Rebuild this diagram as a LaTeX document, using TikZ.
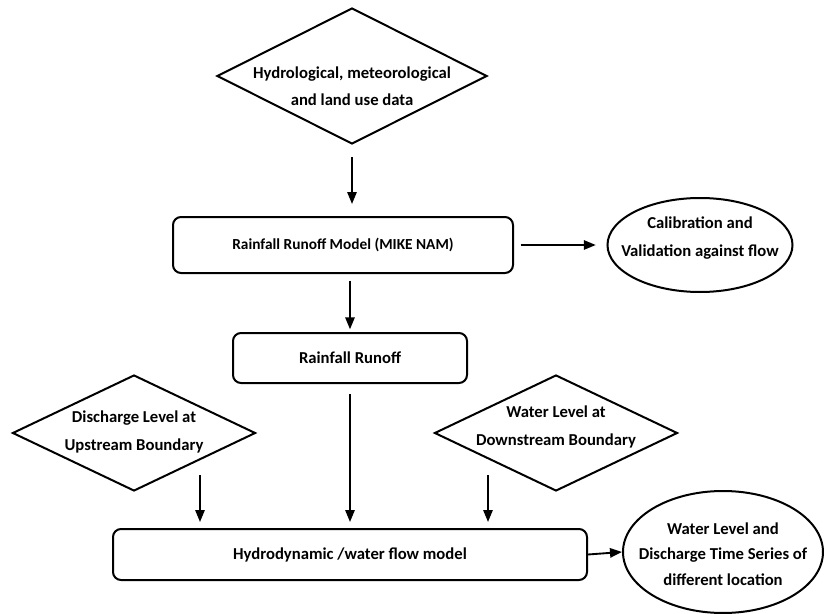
\documentclass[tikz,border=0pt]{standalone}
\usepackage{fontspec}
\setmainfont{Carlito}
\usetikzlibrary{shapes.geometric,arrows.meta}
\begin{document}
\begin{tikzpicture}[x=0.75pt,y=-0.75pt, line width=1.5pt,
  txt/.style={font=\bfseries\fontsize{12.5}{20.5}\selectfont, align=center, inner sep=0pt},
  dia/.style={diamond, draw, inner sep=0pt},
  rbox/.style={draw, rounded corners=6pt, inner sep=0pt, font=\bfseries\fontsize{12.5}{20.5}\selectfont, align=center},
  ell/.style={ellipse, draw, inner sep=0pt},
  arr/.style={-{Triangle[length=9pt,width=7pt]}, line width=1.4pt}]
\useasboundingbox (0,0) rectangle (826,614);

% shapes
\node[dia, minimum width=202.5pt, minimum height=102pt] (top) at (352,76) {};
\node[txt] (topt) at (352,86) {Hydrological, meteorological\\and land use data};

\node[rbox, minimum width=255pt, minimum height=42pt, font=\bfseries\fontsize{11.5}{20}\selectfont] (model) at (343,245) {Rainfall Runoff Model (MIKE NAM)};

\node[ell, minimum width=138.75pt, minimum height=70.5pt] (cal) at (700,245) {};
\node[txt] (calt) at (700,238) {Calibration and\\Validation against flow};

\node[rbox, minimum width=175.5pt, minimum height=37.5pt] (rr) at (350,358) {Rainfall Runoff};

\node[dia, minimum width=182.25pt, minimum height=87pt] (dis) at (134,433) {};
\node[txt] (dist) at (134,432) {Discharge Level at\\Upstream Boundary};

\node[dia, minimum width=182.25pt, minimum height=87pt] (wl) at (556,433) {};
\node[txt] (wlt) at (556,427) {Water Level at\\Downstream Boundary};

\node[rbox, minimum width=355.5pt, minimum height=38.25pt] (hydro) at (350,554.5) {Hydrodynamic /water flow model};

\node[ell, minimum width=150pt, minimum height=91.5pt] (out) at (723,552) {};
\node[txt, font=\bfseries\fontsize{12.5}{19}\selectfont] (outt) at (723,554) {Water Level and\\Discharge Time Series of\\different location};

% connectors
\coordinate (disa) at (200,475);
\coordinate (wla) at (488,475);

\draw[arr, shorten <=9pt, shorten >=9pt] (top.south) -- (model.north -| top.south);
\draw[arr, shorten <=5pt, shorten >=2pt] (model.south -| rr.north) -- (rr.north);
\draw[arr, shorten <=7.5pt, shorten >=4.5pt] (rr.south) -- (rr.south |- hydro.north);
\draw[arr, shorten >=4.5pt] (disa) -- (disa |- hydro.north);
\draw[arr, shorten >=4.5pt] (wla) -- (wla |- hydro.north);
\draw[arr, shorten <=5pt, shorten >=8pt] (model.east) -- (cal.west);
\draw[arr] (hydro.east) -- (out.west);
\end{tikzpicture}
\end{document}
